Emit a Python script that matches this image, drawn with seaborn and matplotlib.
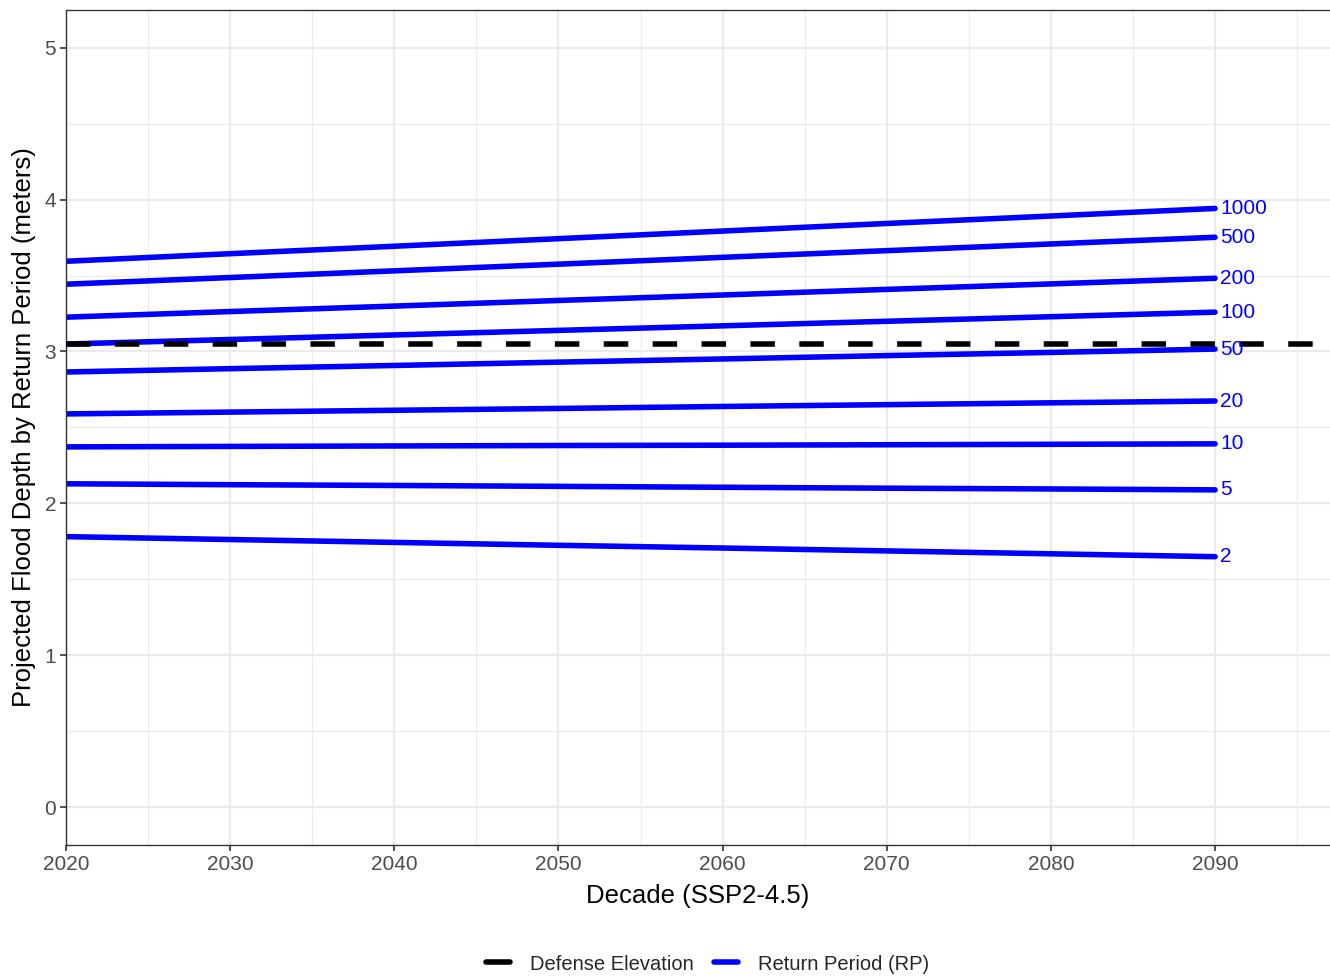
import seaborn as sns
import pandas as pd
import matplotlib.pyplot as plt
from matplotlib.lines import Line2D

# Decades and projected flood depth per return period
decades = [2020, 2030, 2040, 2050, 2060, 2070, 2080, 2090]
return_periods = ['1000', '500', '200', '100', '50', '20', '10', '5', '2']
rp_1000 = [3.594, 3.644, 3.693, 3.743, 3.793, 3.843, 3.892, 3.942]
rp_500 = [3.443, 3.487, 3.531, 3.575, 3.620, 3.664, 3.708, 3.752]
rp_200 = [3.226, 3.263, 3.299, 3.336, 3.372, 3.409, 3.445, 3.482]
rp_100 = [3.049, 3.079, 3.109, 3.139, 3.169, 3.199, 3.229, 3.259]
rp_50 = [2.865, 2.887, 2.908, 2.930, 2.951, 2.973, 2.994, 3.016]
rp_20 = [2.589, 2.601, 2.613, 2.625, 2.638, 2.650, 2.662, 2.674]
rp_10 = [2.372, 2.375, 2.378, 2.381, 2.383, 2.386, 2.389, 2.392]
rp_5 = [2.129, 2.123, 2.118, 2.112, 2.106, 2.100, 2.095, 2.089]
rp_2 = [1.781, 1.762, 1.743, 1.724, 1.706, 1.687, 1.668, 1.649]
defense_elevation = 3.05

series = [rp_1000, rp_500, rp_200, rp_100, rp_50, rp_20, rp_10, rp_5, rp_2]
df = pd.DataFrame([
    {'Decade': d, 'Depth': v, 'RP': rp}
    for rp, vals in zip(return_periods, series)
    for d, v in zip(decades, vals)
])

sns.set_style('whitegrid')
plt.rcParams['font.family'] = ['Liberation Sans', 'DejaVu Sans']

fig = plt.figure(figsize=(13.3, 9.77), dpi=100)
ax = fig.add_axes([0.0496, 0.135, 0.9504, 0.855])

# Return period lines
sns.lineplot(data=df, x='Decade', y='Depth', hue='RP', palette=['#0000FF'] * len(return_periods),
             linewidth=4.0, legend=False, ax=ax)

# Defense elevation
ax.axhline(defense_elevation, color='black', linewidth=4.0, linestyle=(0, (4.4, 4.4)), zorder=5)

# Labels at line ends
for rp, vals in zip(return_periods, series):
    ax.text(decades[-1] + 0.3, vals[-1], rp, color='#0000FF', fontsize=15,
            va='center', ha='left', zorder=6)

ax.set_xlim(2020, 2097)
ax.set_ylim(-0.25, 5.25)
ax.set_xticks(decades)
ax.set_yticks([0, 1, 2, 3, 4, 5])
ax.set_xticks([2025, 2035, 2045, 2055, 2065, 2075, 2085, 2095], minor=True)
ax.set_yticks([0.5, 1.5, 2.5, 3.5, 4.5], minor=True)
ax.grid(which='major', color='#EBEBEB', linewidth=1.6)
ax.grid(which='minor', color='#EBEBEB', linewidth=0.8)
ax.tick_params(which='major', direction='out', length=4, width=1.2, color='#333333',
               labelsize=15, labelcolor='#4D4D4D', bottom=True, left=True, pad=3)
ax.tick_params(which='minor', length=0)
for side in ['left', 'bottom', 'top']:
    ax.spines[side].set_color('#333333')
    ax.spines[side].set_linewidth(1.0)
ax.spines['right'].set_visible(False)

ax.set_xlabel('Decade (SSP2-4.5)', fontsize=18.5, color='black', labelpad=7)
ax.set_ylabel('Projected Flood Depth by Return Period (meters)', fontsize=18.5, color='black', labelpad=6)

handles = [Line2D([0], [0], color='black', linewidth=4.0),
           Line2D([0], [0], color='#0000FF', linewidth=4.0)]
fig.legend(handles, ['Defense Elevation', 'Return Period (RP)'], loc='lower center',
           bbox_to_anchor=(0.532, -0.015), ncol=2, frameon=False, fontsize=14.5,
           handlelength=1.2, columnspacing=1.0, handletextpad=1.0)

fig.savefig('out.png', dpi=100)
